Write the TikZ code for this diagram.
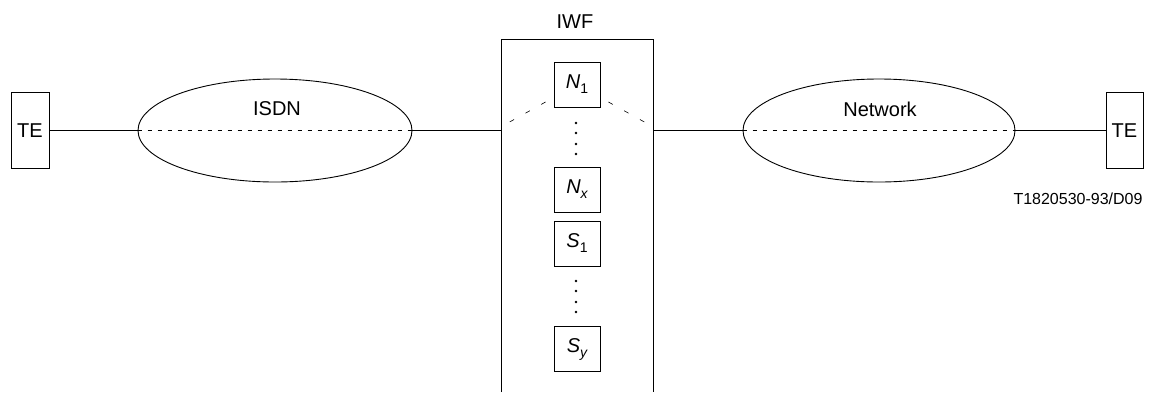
\documentclass[tikz,border=0pt]{standalone}
\usepackage{fontspec}
\setmainfont{Liberation Sans}
\usetikzlibrary{shapes.geometric}
\begin{document}
\begin{tikzpicture}[x=1pt,y=-1pt,
  lbl/.style={font=\fontsize{20}{24}\selectfont, inner sep=0pt},
  tebox/.style={draw, line width=0.9pt, minimum height=76pt, inner sep=0pt, font=\fontsize{20}{24}\selectfont},
  cloud/.style={draw, ellipse, line width=0.9pt, minimum width=274pt, minimum height=103pt, inner sep=0pt},
  ibox/.style={draw, fill=white, line width=0.9pt, minimum width=46pt, minimum height=45pt, inner sep=0pt, font=\fontsize{20}{24}\selectfont},
  conn/.style={line width=1.6pt},
  thindash/.style={line width=0.6pt, dash pattern=on 4pt off 6pt},
  iwfdash/.style={line width=0.6pt, dash pattern=on 5pt off 13pt},
  dotm/.style={fill=black, circle, inner sep=0pt, minimum size=2.6pt}
]
\useasboundingbox (0,0) rectangle (1149,392);
% TE boxes
\node[tebox, minimum width=38pt] (teL) at (30,130.5) {TE};
\node[tebox, minimum width=37pt] (teR) at (1124.5,130.5) {TE};
% clouds
\node[cloud] (isdn) at (275,130.5) {};
\node[cloud, minimum width=272pt] (net) at (879,130.5) {};
\node[lbl] (isdnl) at (277,109) {ISDN};
\node[lbl] (netl) at (880,109) {Network};
\draw[thindash] (isdn.west) -- (isdn.east);
\draw[thindash] (net.west) -- (net.east);
% IWF
\node[minimum width=151pt, minimum height=352pt, inner sep=0pt] (iwf) at (577.5,216) {};
\draw[line width=0.9pt] (iwf.south west) -- (iwf.north west) -- (iwf.north east) -- (iwf.south east);
\node[lbl] (iwfl) at (575,22) {IWF};
\coordinate (pL) at (iwf.west |- isdn.east);
\coordinate (pR) at (iwf.east |- net.west);
% connections
\draw[conn] (teL.east) -- (isdn.west);
\draw[conn] (isdn.east) -- (pL);
\draw[conn] (pR) -- (net.west);
\draw[conn] (net.east) -- (teR.west);
% inner dashed lines
\coordinate (dL) at (506,124);
\coordinate (dR) at (648,124);
\coordinate (nc) at (577,84.5);
\draw[iwfdash] (nc) -- (dL);
\draw[iwfdash] (nc) -- (dR);
% inner boxes
\node[ibox] (n1) at (577,84.5) {{\itshape N}\raisebox{-0.25em}{\fontsize{14}{14}\selectfont 1}};
\node[ibox] (nx) at (577,189.5) {{\itshape N}\raisebox{-0.25em}{\fontsize{14}{14}\selectfont\itshape x}};
\node[ibox] (s1) at (577,243.5) {{\itshape S}\raisebox{-0.25em}{\fontsize{14}{14}\selectfont 1}};
\node[ibox] (sy) at (577,349) {{\itshape S}\raisebox{-0.25em}{\fontsize{14}{14}\selectfont\itshape y}};
% dots
\foreach \yy [count=\i] in {123,133,144,154} \node[dotm] (da\i) at (576,\yy) {};
\foreach \yy [count=\i] in {281,291,302,312} \node[dotm] (db\i) at (576,\yy) {};
% code label
\node[font=\fontsize{16}{19}\selectfont, inner sep=0pt] (code) at (1078,199) {T1820530-93/D09};
\end{tikzpicture}
\end{document}
